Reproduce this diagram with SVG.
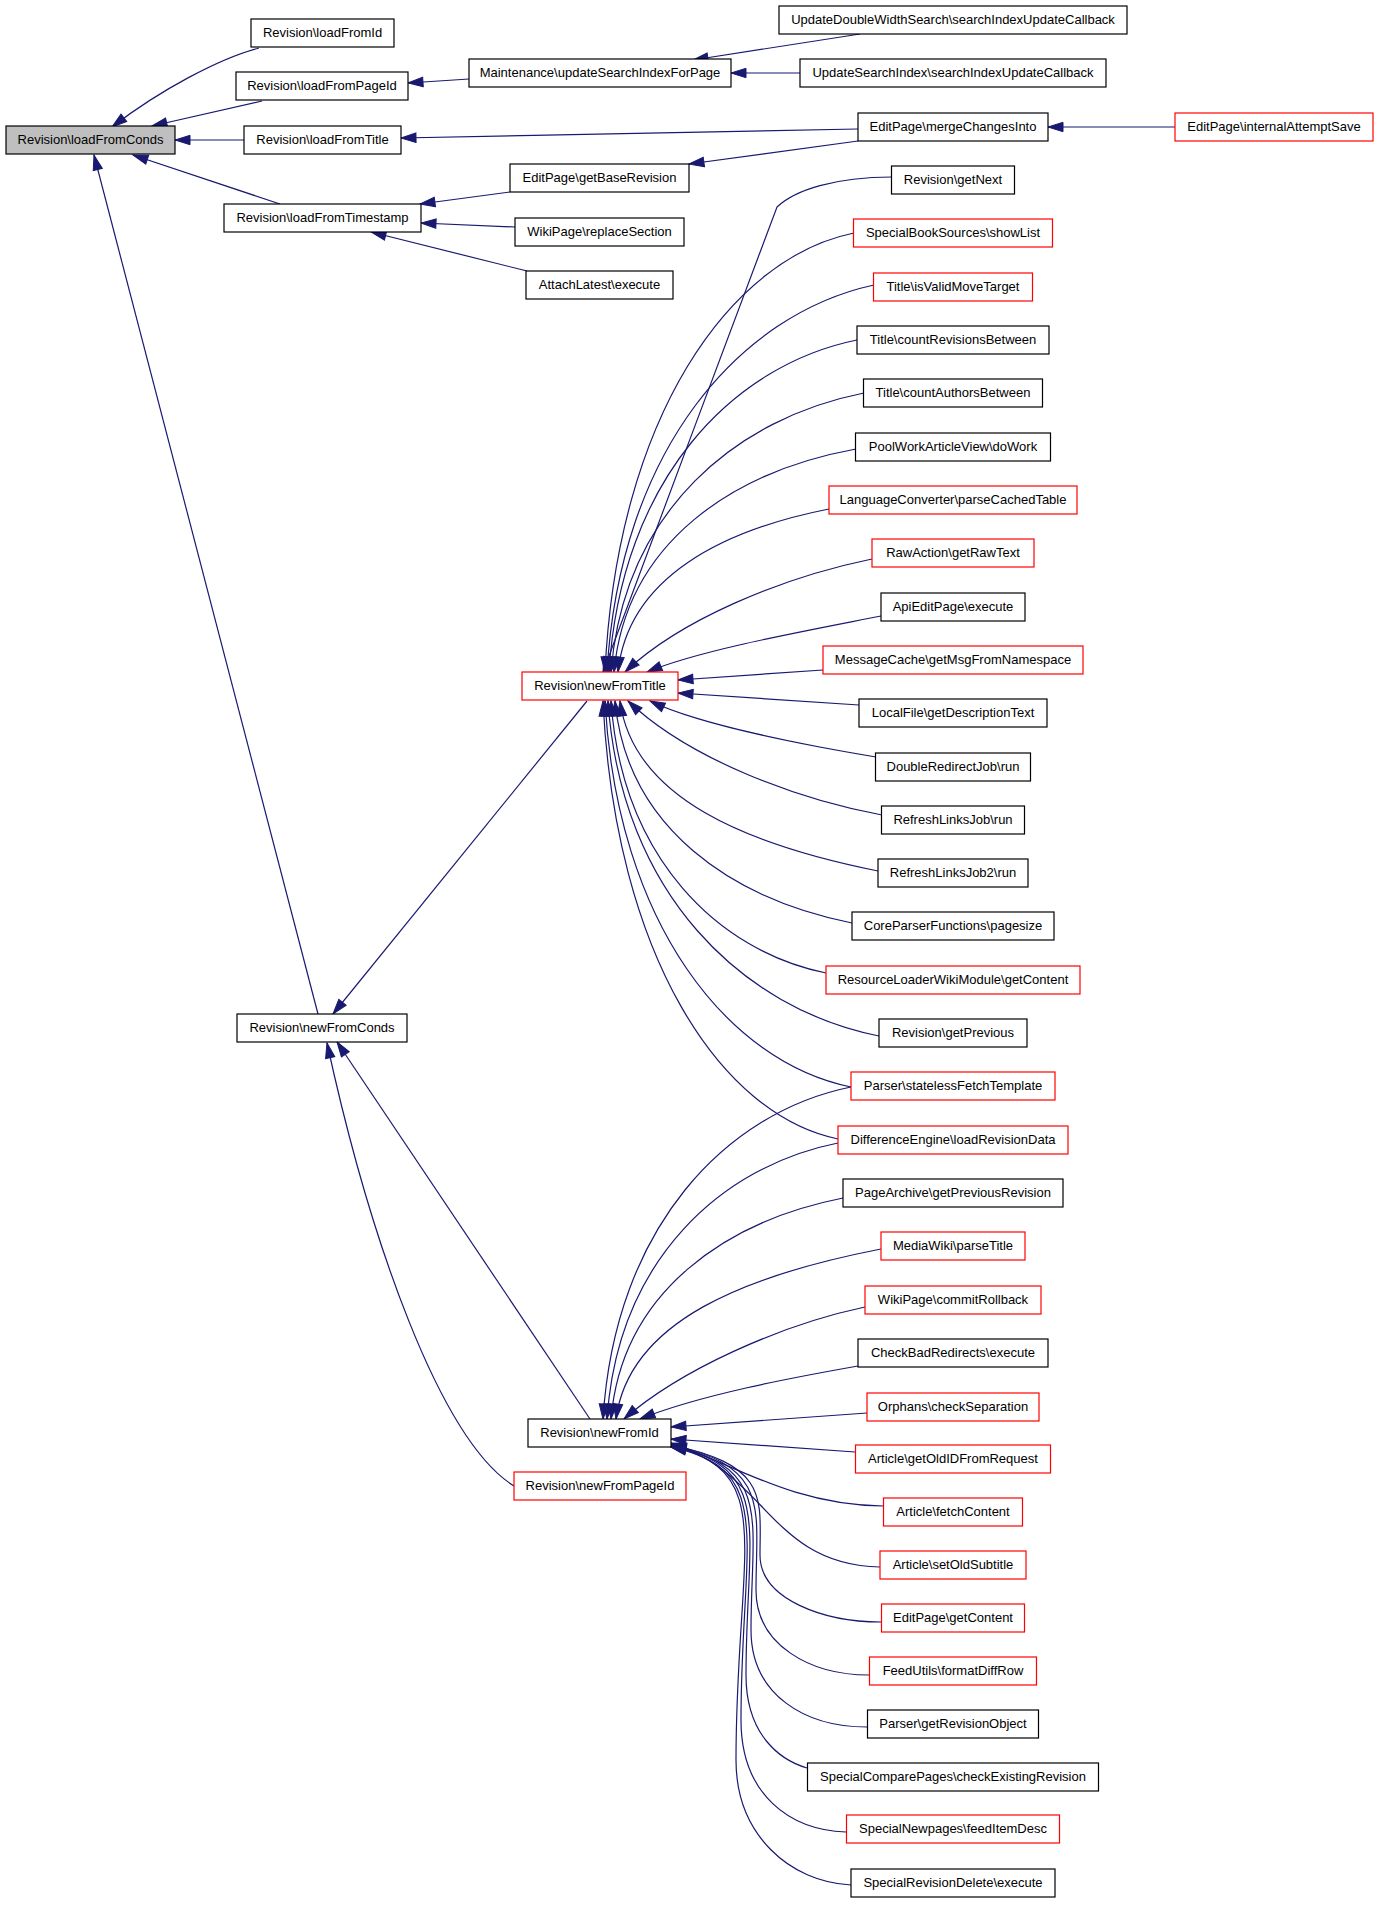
<svg xmlns="http://www.w3.org/2000/svg" width="1379" height="1907" viewBox="0 0 1379 1907">
<style>
.node rect{fill:#fff;stroke:#000;stroke-width:1.2}
.node.red rect{stroke:#ff0000}
.node.cur rect{fill:#bfbfbf}
.node text{font-family:"Liberation Sans",Arial,sans-serif;font-size:13px;fill:#000;text-anchor:middle}
.edges path{fill:none;stroke:#191970;stroke-width:1.2;marker-end:url(#ah)}
</style>
<defs>
<marker id="ah" markerUnits="userSpaceOnUse" markerWidth="16" markerHeight="10" refX="15" refY="5" orient="auto" overflow="visible">
<path d="M0,0.3 L15,5 L0,9.7 Z" fill="#191970" stroke="#191970" stroke-width="1"/>
</marker>
</defs>
<rect width="1379" height="1907" fill="#fff"/>
<g class="edges">
<path d="M259,48 C220,58 160,90 112,127"/>
<path d="M262,101 L152,126"/>
<path d="M244,140 L175,140"/>
<path d="M280,204 L133,155"/>
<path d="M318,1014 L94,155"/>
<path d="M469,79 L408,83"/>
<path d="M860,34 L693,60"/>
<path d="M800,73 L731,73"/>
<path d="M858,129 L401,138"/>
<path d="M1175,127 L1048,127"/>
<path d="M858,141 L689,164"/>
<path d="M510,192 L420,204"/>
<path d="M515,227 L421,223"/>
<path d="M527,271 L371,232"/>
<path d="M587,701 L333,1014"/>
<path d="M590,1419 L337,1042"/>
<path d="M514,1486 C440,1440 370,1240 327,1043"/>
<path d="M892,177 C835,177 795,190 777,207 C750,280 630,598 603,672"/>
<path d="M854,233 C730,258 617,417 605,672"/>
<path d="M874,285 C740,314 620,449 607,672"/>
<path d="M857,340 C733,365 621,479 609,672"/>
<path d="M864,393 C737,418 624,510 611,672"/>
<path d="M856,449 C735,471 626,541 614,672"/>
<path d="M829,509 C723,530 628,577 618,672"/>
<path d="M872,559 C780,578 680,620 625,672"/>
<path d="M881,616 C800,632 700,650 647,672"/>
<path d="M823,670 L678,680"/>
<path d="M859,705 L678,693"/>
<path d="M876,757 C810,746 700,725 650,701"/>
<path d="M882,815 C800,800 690,760 628,701"/>
<path d="M878,871 C749,845 633,799 620,701"/>
<path d="M852,923 C733,899 627,829 615,701"/>
<path d="M826,973 C718,951 622,858 611,701"/>
<path d="M879,1036 C743,1009 621,894 608,701"/>
<path d="M851,1087 C728,1062 617,924 605,701"/>
<path d="M838,1139 C720,1115 615,954 603,701"/>
<path d="M851,1087 C727,1112 615,1226 603,1419"/>
<path d="M838,1143 C722,1166 618,1259 607,1419"/>
<path d="M843,1198 C727,1221 622,1291 611,1419"/>
<path d="M881,1249 C748,1275 629,1320 616,1419"/>
<path d="M865,1307 C780,1325 680,1370 624,1419"/>
<path d="M858,1366 C790,1378 700,1395 640,1419"/>
<path d="M867,1413 L671,1427"/>
<path d="M855,1452 L671,1439"/>
<path d="M883,1506 C790,1505 730,1462 671,1443"/>
<path d="M880,1567 C770,1565 765,1470 671,1444"/>
<path d="M881,1622 C825,1622 760,1600 760,1555 C760,1500 770,1465 671,1445"/>
<path d="M869,1675 C810,1675 756,1645 756,1590 C756,1510 772,1466 671,1445"/>
<path d="M867,1727 C805,1727 751,1695 751,1630 C751,1520 774,1467 671,1446"/>
<path d="M807,1768 C780,1760 746,1735 746,1675 C746,1530 776,1468 671,1446"/>
<path d="M846,1832 C790,1830 741,1795 741,1720 C741,1540 778,1469 671,1447"/>
<path d="M851,1885 C790,1882 736,1835 736,1760 C736,1550 780,1470 671,1447"/>
</g>
<g id="n_loadFromConds" class="node cur"><rect x="6" y="126" width="169" height="28"/><text x="90.5" y="144">Revision\loadFromConds</text></g>
<g id="n_loadFromId" class="node"><rect x="251" y="19" width="143" height="28"/><text x="322.5" y="37">Revision\loadFromId</text></g>
<g id="n_loadFromPageId" class="node"><rect x="236" y="72" width="172" height="28"/><text x="322" y="90">Revision\loadFromPageId</text></g>
<g id="n_loadFromTitle" class="node"><rect x="244" y="126" width="157" height="28"/><text x="322.5" y="144">Revision\loadFromTitle</text></g>
<g id="n_loadFromTimestamp" class="node"><rect x="224" y="204" width="197" height="28"/><text x="322.5" y="222">Revision\loadFromTimestamp</text></g>
<g id="n_newFromConds" class="node"><rect x="237" y="1014" width="170" height="28"/><text x="322" y="1032">Revision\newFromConds</text></g>
<g id="n_updateSearchIndexForPage" class="node"><rect x="469" y="59" width="262" height="28"/><text x="600" y="77">Maintenance\updateSearchIndexForPage</text></g>
<g id="n_getBaseRevision" class="node"><rect x="510" y="164" width="179" height="28"/><text x="599.5" y="182">EditPage\getBaseRevision</text></g>
<g id="n_replaceSection" class="node"><rect x="515" y="218" width="169" height="28"/><text x="599.5" y="236">WikiPage\replaceSection</text></g>
<g id="n_attachLatest" class="node"><rect x="526" y="271" width="147" height="28"/><text x="599.5" y="289">AttachLatest\execute</text></g>
<g id="n_newFromTitle" class="node red"><rect x="522" y="672" width="156" height="28"/><text x="600" y="690">Revision\newFromTitle</text></g>
<g id="n_newFromId" class="node"><rect x="528" y="1419" width="143" height="28"/><text x="599.5" y="1437">Revision\newFromId</text></g>
<g id="n_newFromPageId" class="node red"><rect x="514" y="1472" width="172" height="28"/><text x="600" y="1490">Revision\newFromPageId</text></g>
<g id="n_updDouble" class="node"><rect x="779" y="6" width="348" height="28"/><text x="953" y="24">UpdateDoubleWidthSearch\searchIndexUpdateCallback</text></g>
<g id="n_updSearch" class="node"><rect x="800" y="59" width="306" height="28"/><text x="953" y="77">UpdateSearchIndex\searchIndexUpdateCallback</text></g>
<g id="n_mergeChangesInto" class="node"><rect x="858" y="113" width="190" height="28"/><text x="953" y="131">EditPage\mergeChangesInto</text></g>
<g id="n_internalAttemptSave" class="node red"><rect x="1175" y="113" width="198" height="28"/><text x="1274" y="131">EditPage\internalAttemptSave</text></g>
<g id="n_getNext" class="node"><rect x="891.5" y="166" width="123" height="28"/><text x="953" y="184">Revision\getNext</text></g>
<g id="n_showList" class="node red"><rect x="853.5" y="219" width="199" height="28"/><text x="953" y="237">SpecialBookSources\showList</text></g>
<g id="n_isValidMoveTarget" class="node red"><rect x="873.5" y="273" width="159" height="28"/><text x="953" y="291">Title\isValidMoveTarget</text></g>
<g id="n_countRevisionsBetween" class="node"><rect x="857" y="326" width="192" height="28"/><text x="953" y="344">Title\countRevisionsBetween</text></g>
<g id="n_countAuthorsBetween" class="node"><rect x="863.5" y="379" width="179" height="28"/><text x="953" y="397">Title\countAuthorsBetween</text></g>
<g id="n_doWork" class="node"><rect x="855.5" y="433" width="195" height="28"/><text x="953" y="451">PoolWorkArticleView\doWork</text></g>
<g id="n_parseCachedTable" class="node red"><rect x="829" y="486" width="248" height="28"/><text x="953" y="504">LanguageConverter\parseCachedTable</text></g>
<g id="n_getRawText" class="node red"><rect x="872" y="539" width="162" height="28"/><text x="953" y="557">RawAction\getRawText</text></g>
<g id="n_apiEditPage" class="node"><rect x="881" y="593" width="144" height="28"/><text x="953" y="611">ApiEditPage\execute</text></g>
<g id="n_getMsgFromNamespace" class="node red"><rect x="823" y="646" width="260" height="28"/><text x="953" y="664">MessageCache\getMsgFromNamespace</text></g>
<g id="n_getDescriptionText" class="node"><rect x="859" y="699" width="188" height="28"/><text x="953" y="717">LocalFile\getDescriptionText</text></g>
<g id="n_doubleRedirectJob" class="node"><rect x="875.5" y="753" width="155" height="28"/><text x="953" y="771">DoubleRedirectJob\run</text></g>
<g id="n_refreshLinksJob" class="node"><rect x="881.5" y="806" width="143" height="28"/><text x="953" y="824">RefreshLinksJob\run</text></g>
<g id="n_refreshLinksJob2" class="node"><rect x="878" y="859" width="150" height="28"/><text x="953" y="877">RefreshLinksJob2\run</text></g>
<g id="n_pagesize" class="node"><rect x="852" y="912" width="202" height="28"/><text x="953" y="930">CoreParserFunctions\pagesize</text></g>
<g id="n_rlGetContent" class="node red"><rect x="826" y="966" width="254" height="28"/><text x="953" y="984">ResourceLoaderWikiModule\getContent</text></g>
<g id="n_getPrevious" class="node"><rect x="879" y="1019" width="148" height="28"/><text x="953" y="1037">Revision\getPrevious</text></g>
<g id="n_statelessFetchTemplate" class="node red"><rect x="851" y="1072" width="204" height="28"/><text x="953" y="1090">Parser\statelessFetchTemplate</text></g>
<g id="n_loadRevisionData" class="node red"><rect x="838" y="1126" width="230" height="28"/><text x="953" y="1144">DifferenceEngine\loadRevisionData</text></g>
<g id="n_getPreviousRevision" class="node"><rect x="843" y="1179" width="220" height="28"/><text x="953" y="1197">PageArchive\getPreviousRevision</text></g>
<g id="n_parseTitle" class="node red"><rect x="881" y="1232" width="144" height="28"/><text x="953" y="1250">MediaWiki\parseTitle</text></g>
<g id="n_commitRollback" class="node red"><rect x="865" y="1286" width="176" height="28"/><text x="953" y="1304">WikiPage\commitRollback</text></g>
<g id="n_checkBadRedirects" class="node"><rect x="858" y="1339" width="190" height="28"/><text x="953" y="1357">CheckBadRedirects\execute</text></g>
<g id="n_checkSeparation" class="node red"><rect x="867" y="1393" width="172" height="28"/><text x="953" y="1411">Orphans\checkSeparation</text></g>
<g id="n_getOldIDFromRequest" class="node red"><rect x="855.5" y="1445" width="195" height="28"/><text x="953" y="1463">Article\getOldIDFromRequest</text></g>
<g id="n_fetchContent" class="node red"><rect x="883.5" y="1498" width="139" height="28"/><text x="953" y="1516">Article\fetchContent</text></g>
<g id="n_setOldSubtitle" class="node red"><rect x="880" y="1551" width="146" height="28"/><text x="953" y="1569">Article\setOldSubtitle</text></g>
<g id="n_epGetContent" class="node red"><rect x="881.5" y="1604" width="143" height="28"/><text x="953" y="1622">EditPage\getContent</text></g>
<g id="n_formatDiffRow" class="node red"><rect x="869.5" y="1657" width="167" height="28"/><text x="953" y="1675">FeedUtils\formatDiffRow</text></g>
<g id="n_getRevisionObject" class="node"><rect x="867.5" y="1710" width="171" height="28"/><text x="953" y="1728">Parser\getRevisionObject</text></g>
<g id="n_checkExistingRevision" class="node"><rect x="807.5" y="1763" width="291" height="28"/><text x="953" y="1781">SpecialComparePages\checkExistingRevision</text></g>
<g id="n_feedItemDesc" class="node red"><rect x="846.5" y="1815" width="213" height="28"/><text x="953" y="1833">SpecialNewpages\feedItemDesc</text></g>
<g id="n_specialRevisionDelete" class="node"><rect x="851" y="1869" width="204" height="28"/><text x="953" y="1887">SpecialRevisionDelete\execute</text></g>
</svg>
